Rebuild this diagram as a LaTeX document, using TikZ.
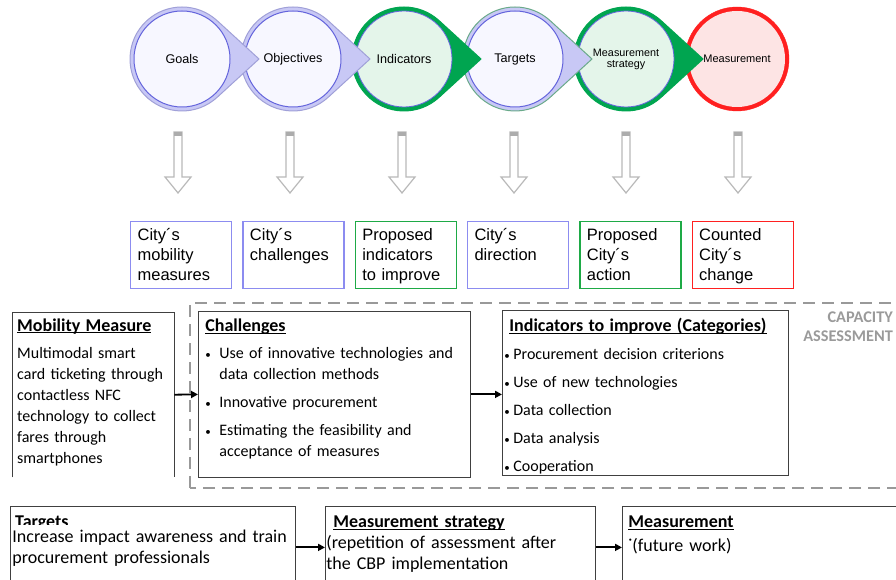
\documentclass[tikz,border=0pt]{standalone}
\usepackage{fontspec}
\setmainfont{Carlito}
\newfontfamily\arialfont{Liberation Sans}
\usepackage{tikz}
\usetikzlibrary{positioning}
\usetikzlibrary{calc, arrows.meta}

\definecolor{lav}{HTML}{C8C8F5}
\definecolor{lavline}{HTML}{A0A0D8}
\definecolor{targline}{HTML}{6AAA8A}
\definecolor{inblue}{HTML}{6464DC}
\definecolor{paleblue}{HTML}{F7F7FF}
\definecolor{grn}{HTML}{00A550}
\definecolor{palegrn}{HTML}{E4F5EA}
\definecolor{palered}{HTML}{FDE4E4}
\definecolor{boxblue}{HTML}{8C8CF0}
\definecolor{boxgrn}{HTML}{1EAA46}
\definecolor{boxred}{HTML}{FF2020}
\definecolor{dashgray}{HTML}{999999}
\definecolor{capgray}{HTML}{9A9A9A}

% circle with a pointed tip to the right: centre, fill, line
\newcommand{\drop}[3]{\filldraw[fill=#2,draw=#3,line width=1pt] ($(#1)+(47:52)$) -- ($(#1)+(77,0)$) -- ($(#1)+(-47:52)$) arc[start angle=-47,end angle=-313,radius=52] -- cycle;}
\newcommand{\ttl}[1]{{\fontsize{18}{21}\selectfont\bfseries\setbox0=\hbox{#1}\rlap{\rule[-2.2pt]{\wd0}{1pt}}\box0}}
\newcommand{\bul}[1]{\makebox[#1][l]{\fontsize{11}{11}\selectfont•}}
\newcommand{\indt}[1]{\hspace*{#1}}

\tikzset{
  stage/.style={circle, inner sep=0pt, minimum size=96pt, align=center, font=\arialfont\fontsize{12.6}{14}\selectfont},
  citybox/.style={draw, line width=1.3pt, anchor=north west, align=left, text width=87pt, inner xsep=7pt, inner ysep=4pt, text height=15pt, text depth=44pt, font=\arialfont\fontsize{16.5}{20}\selectfont},
  panel/.style={anchor=north west, align=left, inner ysep=5pt, font=\fontsize{16}{21}\selectfont},
  panelline/.style={draw=black!75, line width=0.8pt},
  conn/.style={-{Triangle[length=7pt,width=7pt]}, line width=1.8pt},
  hollow/.style={draw=gray!55, fill=white, line width=1.2pt}
}

\begin{document}
\begin{tikzpicture}[x=1pt,y=1pt]
\useasboundingbox (0,0) rectangle (896,580);

% stages, from the right so that each tip lies on top
\coordinate (cMeas) at (737,521);
\filldraw[fill=boxred,draw=boxred] (cMeas) circle[radius=52];
\node[stage, fill=palered, font=\arialfont\fontsize{11}{13}\selectfont] (measurement) at (cMeas) {Measurement};

\coordinate (cStrat) at (626,521);
\drop{cStrat}{grn}{grn}
\node[stage, fill=palegrn, draw=inblue, line width=0.8pt, font=\arialfont\fontsize{10.8}{11}\selectfont] (strategy) at (cStrat) {Measurement\\strategy};

\coordinate (cTarg) at (515,521);
\drop{cTarg}{lav}{targline}
\node[stage, fill=paleblue, draw=inblue, line width=1pt] (targets) at (cTarg) {Targets};

\coordinate (cInd) at (404,521);
\drop{cInd}{grn}{grn}
\node[stage, fill=palegrn, draw=inblue, line width=0.8pt] (indicators) at (cInd) {Indicators};

\coordinate (cObj) at (293,521);
\drop{cObj}{lav}{lavline}
\node[stage, fill=paleblue, draw=inblue, line width=1pt] (objectives) at (cObj) {Objectives};

\coordinate (cGoal) at (182,521);
\drop{cGoal}{lav}{lavline}
\node[stage, fill=paleblue, draw=inblue, line width=1pt] (goals) at (cGoal) {Goals};

% hollow arrows
\foreach \x in {178,290,402,514,626,738}{
  \filldraw[hollow] (\x-4,448) -- (\x+4,448) -- (\x+4,403) -- (\x+13,403) -- (\x,387) -- (\x-13,403) -- (\x-4,403) -- cycle;
  \fill[gray!65] (\x-4,448) rectangle (\x+4,444);
}

% city boxes
\node[citybox, draw=boxblue] (bMob) at (130,359) {City´s\\mobility\\measures};
\node[citybox, draw=boxblue, right=10pt of bMob] (bChal) {City´s\\challenges};
\node[citybox, draw=boxgrn, right=10pt of bChal] (bInd) {Proposed\\indicators\\to improve};
\node[citybox, draw=boxblue, right=10pt of bInd] (bDir) {City´s\\direction};
\node[citybox, draw=boxgrn, right=10pt of bDir] (bAct) {Proposed\\City´s\\action};
\node[citybox, draw=boxred, right=10pt of bAct] (bChg) {Counted\\City´s\\change};

% capacity assessment
\draw[dashgray, line width=2.3pt, dash pattern=on 12pt off 7pt] (190,92) rectangle (920,277);
\node[text=capgray, font=\fontsize{16.3}{19}\selectfont\bfseries, align=right, anchor=north east, inner sep=0pt] (cap) at (893,268.5) {CAPACITY\\ASSESSMENT};

\node[panel, text width=152pt, inner xsep=5pt, text height=14pt, text depth=141pt] (mob) at (12,268) {\ttl{Mobility Measure}\\[6pt]
Multimodal smart\\card ticketing through\\contactless NFC\\technology to collect\\fares through\\smartphones};
\draw[panelline] (mob.south west) -- (mob.north west) -- (mob.north east) -- (mob.south east);

\node[panel, panelline, text width=258pt, inner xsep=7pt, text height=15pt, text depth=141pt] (chal) at (198,269) {\ttl{Challenges}\\[6pt]
\bul{14pt}Use of innovative technologies and\\ \indt{14pt}data collection methods\\[7pt]
\bul{14pt}Innovative procurement\\[7pt]
\bul{14pt}Estimating the feasibility and\\ \indt{14pt}acceptance of measures};

\node[panel, panelline, text width=282pt, inner xsep=2pt, text height=16pt, text depth=139pt] (ind) at (502,270) {\indt{5pt}\ttl{Indicators to improve (Categories)}\\[7pt]
\bul{9pt}Procurement decision criterions\\[7pt]
\bul{9pt}Use of new technologies\\[7pt]
\bul{9pt}Data collection\\[7pt]
\bul{9pt}Data analysis\\[7pt]
\bul{9pt}Cooperation};

\draw[conn] (mob.east) -- (chal.west);
\draw[conn] (chal.east) -- (chal.east -| ind.west);

% bottom row
\begin{scope}
\clip (10,74) rectangle (295,55);
\node[anchor=base west, inner sep=0pt] (tartitle) at (15,52) {\ttl{Targets}};
\end{scope}
\node[panel, panelline, text width=281pt, inner xsep=2pt, text height=31pt, text depth=41pt, font=\fontsize{18}{21}\selectfont] (tar) at (10,74) {Increase impact awareness and train\\procurement professionals};
\node[panel, panelline, text width=268pt, inner xsep=1pt, text height=16pt, text depth=56pt, font=\fontsize{18}{21}\selectfont] (mstrat) at (325,74) {\indt{7pt}\ttl{Measurement strategy}\\(repetition of assessment after\\the CBP implementation};
\node[panel, panelline, text width=290pt, inner xsep=6pt, text height=16pt, text depth=56pt, font=\fontsize{18}{21}\selectfont] (meas) at (622,74) {\ttl{Measurement}\\[3pt]˙(future work)};

\draw[conn] (tar.east) -- (mstrat.west);
\draw[conn] (mstrat.east) -- (meas.west);

\end{tikzpicture}
\end{document}
